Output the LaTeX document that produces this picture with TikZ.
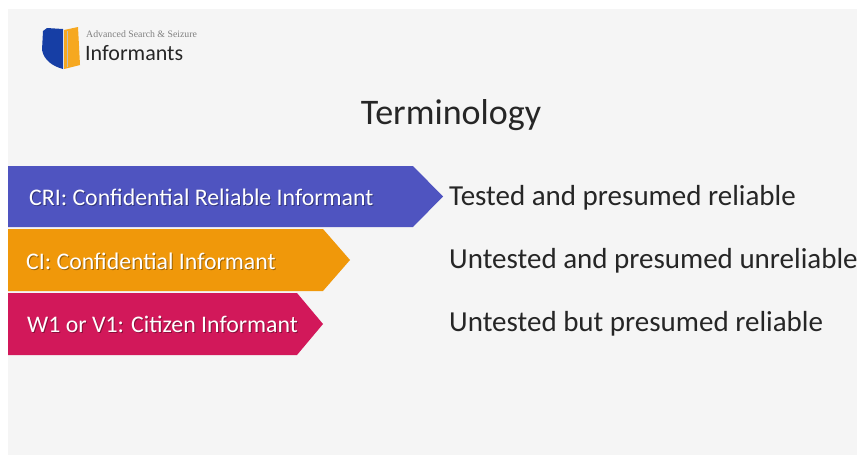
\documentclass[tikz,border=0pt]{standalone}
\usepackage{fontspec}
\setmainfont{Carlito}
\newfontfamily\logoserif{Liberation Serif}
\usepackage{xcolor}
\usetikzlibrary{positioning,calc}

\definecolor{slidebg}{RGB}{245,245,245}
\definecolor{cribox}{RGB}{79,84,192}
\definecolor{cibox}{RGB}{240,152,10}
\definecolor{citbox}{RGB}{210,24,90}
\definecolor{bodytext}{RGB}{38,38,38}
\definecolor{logoblue}{RGB}{22,62,165}
\definecolor{logoorange}{RGB}{246,168,32}

\tikzset{
  tagtext/.style={anchor=base west,text=white,inner sep=0pt,font=\fontsize{23.8}{28}\selectfont},
  tagshadow/.style={tagtext,text=black,opacity=0.35},
  deftext/.style={anchor=base west,text=bodytext,inner sep=0pt,font=\fontsize{29}{34}\selectfont}
}

\begin{document}
\begin{tikzpicture}[x=1pt,y=-1pt]
  % 背景
  \fill [white] (0,0) rectangle (857,455);
  \fill [slidebg] (8,9) rectangle (857,455);
  \useasboundingbox (0,0) rectangle (857,455);

  % ロゴ
  \fill [logoblue] (43,31) -- (47,28) -- (63,29) -- (63,69)
    .. controls (52,66) and (44,60) .. (42,50) -- cycle;
  \fill [logoorange] (64,30) -- (78,27) -- (80,65) -- (64,69) -- cycle;
  \draw [gray!50,thin] (67,31) -- (67,67);
  \node [anchor=base west,inner sep=0pt,text=gray,font=\logoserif\fontsize{9.8}{11}\selectfont]
    (logosub) at (86,37) {Advanced Search \& Seizure};
  \node [anchor=base west,inner sep=0pt,text=bodytext,font=\fontsize{22}{26}\selectfont]
    (logoname) at (85,60) {Informants};

  % 見出し
  \node [anchor=base,inner sep=0pt,text=bodytext,font=\fontsize{36}{43}\selectfont]
    (title) at (451,124) {Terminology};

  % 矢羽根と説明
  \foreach \n/\top/\bot/\body/\tip/\col/\tx/\ty/\dy/\lab/\desc in {
      cri/166/227/413/443/cribox/29/205/205/{CRI: Confidential Reliable Informant}/{Tested and presumed reliable},
      ci/229/291/323/350/cibox/26/269/268/{CI: Confidential Informant}/{Untested and presumed unreliable},
      cit/293/355/297/323/citbox/27/332/331/{W1 or V1: Citizen Informant}/{Untested but presumed reliable}} {
    \fill [\col] (8,\top) -- (\body,\top) -- ({\tip},{(\top+\bot)/2}) -- (\body,\bot) -- (8,\bot) -- cycle;
    \node [tagshadow] (\n shadow) at (\tx+1,\ty+1.2) {\lab};
    \node [tagtext] (\n tag) at (\tx,\ty) {\lab};
    \node [deftext] (\n desc) at (449,\dy) {\desc};
  }
\end{tikzpicture}
\end{document}
